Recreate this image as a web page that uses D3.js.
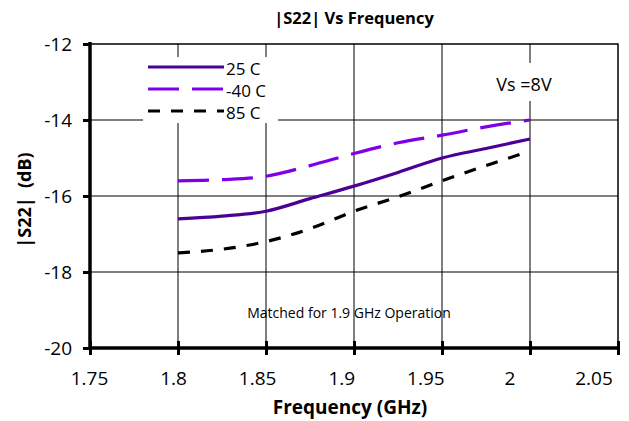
<!DOCTYPE html>
<html>
<head>
<meta charset="utf-8">
<script src="https://cdn.jsdelivr.net/npm/d3@7"></script>
<style>
  body { margin: 0; background: #fff; }
  svg text { font-family: "Open Sans", "Noto Sans", sans-serif; }
</style>
</head>
<body>
<div id="chart"></div>
<script>
// values
var freq = [1.8, 1.825, 1.85, 1.875, 1.9, 1.925, 1.95, 1.975, 2.0];
var s25 = [-16.6, -16.53, -16.4, -16.07, -15.74, -15.38, -15.0, -14.75, -14.5];
var m40 = [-15.6, -15.57, -15.48, -15.2, -14.88, -14.6, -14.4, -14.18, -14.0];
var p85 = [-17.5, -17.4, -17.2, -16.86, -16.4, -16.02, -15.6, -15.2, -14.82];
var seriesNames = ["25 C", "-40 C", "85 C"];
var xTicks = [1.75, 1.8, 1.85, 1.9, 1.95, 2, 2.05];
var yTicks = [-12, -14, -16, -18, -20];

var width = 629, height = 421;
var pLeft = 90, pRight = 618, pTop = 44, pBottom = 348;

var svg = d3.select("#chart").append("svg")
	.attr("width", width)
	.attr("height", height);

var x = d3.scaleLinear().domain([1.75, 2.05]).range([pLeft, pRight]);
var y = d3.scaleLinear().domain([-20, -12]).range([pBottom, pTop]);
// the tick labels in the picture sit a bit left of their ticks
var xLabel = d3.scaleLinear().domain([1.75, 2.05]).range([89.5, 594]);

// grid lines
svg.selectAll(".vgrid")
	.data(xTicks.slice(1, -1))
	.enter().append("line")
	.attr("x1", function(d) { return x(d); })
	.attr("x2", function(d) { return x(d); })
	.attr("y1", pTop)
	.attr("y2", pBottom)
	.style("stroke", "#555")
	.style("stroke-width", 1.5);

svg.selectAll(".hgrid")
	.data(yTicks.slice(1, -1))
	.enter().append("line")
	.attr("x1", pLeft)
	.attr("x2", pRight)
	.attr("y1", function(d) { return y(d); })
	.attr("y2", function(d) { return y(d); })
	.style("stroke", "#000")
	.style("stroke-width", 1.2);

// top and right border
svg.append("path")
	.attr("d", "M" + pLeft + "," + pTop + "H" + pRight + "V" + pBottom)
	.style("fill", "none")
	.style("stroke", "#000")
	.style("stroke-width", 1.5);

// white boxes behind legend and note
svg.append("rect").attr("x", 143).attr("y", 57).attr("width", 135).attr("height", 66).style("fill", "#fff");
svg.append("rect").attr("x", 492).attr("y", 63).attr("width", 66).attr("height", 38).style("fill", "#fff");

// series
var series = [
	{name: seriesNames[0], values: s25, color: "#4b0096", dash: null},
	{name: seriesNames[1], values: m40, color: "#7f00e6", dash: "31,13"},
	{name: seriesNames[2], values: p85, color: "#000", dash: "12,11"}
];

var line = d3.line()
	.x(function(d) { return x(d[0]); })
	.y(function(d) { return y(d[1]); })
	.curve(d3.curveMonotoneX);

series.forEach(function(s) {
	svg.append("path")
		.datum(freq.map(function(f, i) { return [f, s.values[i]]; }))
		.attr("d", line)
		.style("fill", "none")
		.style("stroke", s.color)
		.style("stroke-width", 3.2)
		.style("stroke-dasharray", s.dash);
});

// axes
var xAxis = d3.axisBottom(x).tickValues(xTicks).tickSize(0).tickFormat("");
var gx = svg.append("g").attr("transform", "translate(0," + pBottom + ")").call(xAxis);
gx.select(".domain").remove();
gx.selectAll(".tick").append("line")
	.attr("y1", -7).attr("y2", 7)
	.style("stroke", "#000").style("stroke-width", 3);

svg.selectAll(".xlab")
	.data(xTicks)
	.enter().append("text")
	.attr("x", function(d) { return xLabel(d); })
	.attr("y", 385)
	.attr("text-anchor", "middle")
	.text(function(d) { return String(+d.toFixed(2)); })
	.style("font-size", "19px");

var yAxis = d3.axisLeft(y).tickValues(yTicks).tickSize(0).tickPadding(18)
	.tickFormat(function(d) { return String(d); });
var gy = svg.append("g").attr("transform", "translate(" + pLeft + ",0)").call(yAxis);
gy.select(".domain").remove();
gy.selectAll("text").style("font-size", "19px").style("fill", "#000");
gy.selectAll(".tick").append("line")
	.attr("x1", -7).attr("x2", 0)
	.style("stroke", "#000").style("stroke-width", 3);

svg.append("line").attr("x1", pLeft).attr("x2", pLeft).attr("y1", pTop - 2).attr("y2", pBottom + 2)
	.style("stroke", "#000").style("stroke-width", 3.5);
svg.append("line").attr("x1", pLeft).attr("x2", pRight + 1).attr("y1", pBottom).attr("y2", pBottom)
	.style("stroke", "#000").style("stroke-width", 3.5);

// legend
var legend = svg.selectAll(".legend")
	.data(series)
	.enter().append("g")
	.attr("transform", function(d, i) { return "translate(148," + (67 + i * 22) + ")"; });
legend.append("line")
	.attr("x1", 0).attr("x2", 76)
	.style("stroke", function(d) { return d.color; })
	.style("stroke-width", 3.2)
	.style("stroke-dasharray", function(d) { return d.dash; });
legend.append("text")
	.attr("x", 78).attr("y", 8)
	.text(function(d) { return d.name; })
	.style("font-size", "17px");

// texts
svg.append("text").attr("x", 354).attr("y", 24).attr("text-anchor", "middle")
	.text("|S22| Vs Frequency").style("font-size", "16.5px").style("font-weight", "bold");
svg.append("text").attr("x", 524).attr("y", 91).attr("text-anchor", "middle")
	.text("Vs =8V").style("font-size", "18px");
svg.append("text").attr("x", 349).attr("y", 318).attr("text-anchor", "middle")
	.text("Matched for 1.9 GHz Operation").style("font-size", "14px");
svg.append("text").attr("x", 350).attr("y", 414).attr("text-anchor", "middle")
	.text("Frequency (GHz)").style("font-size", "19px").style("font-weight", "bold");
svg.append("text").attr("transform", "translate(31,200) rotate(-90)").attr("text-anchor", "middle")
	.text("|S22|  (dB)").style("font-size", "18px").style("font-weight", "bold")
	.style("white-space", "pre");
</script>
</body>
</html>
